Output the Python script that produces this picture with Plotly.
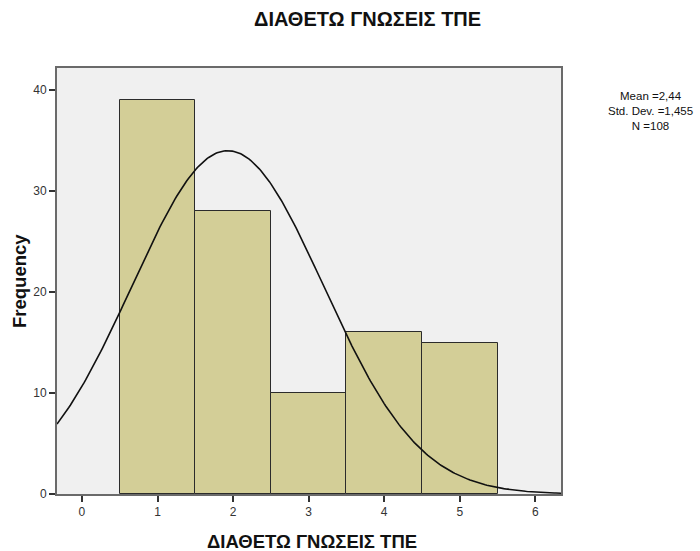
import numpy as np
import plotly.graph_objects as go

# Data
categories = [1, 2, 3, 4, 5]
frequencies = [39, 28, 10, 16, 15]
x_ticks = [0, 1, 2, 3, 4, 5, 6]
y_ticks = [0, 10, 20, 30, 40]
stats_lines = ["Mean =2,44", "Std. Dev. =1,455", "N =108"]
title_text = "ΔΙΑΘΕΤΩ ΓΝΩΣΕΙΣ ΤΠΕ"
y_title_text = "Frequency"

# Normal curve parameters as drawn in the picture
curve_mean = 1.93
curve_sd = 1.267
curve_n = 108
bin_width = 1.0

x_min, x_max = -0.33, 6.34
y_max = 42.2

W, H = 700, 551
L, R, T, B = 57, 561, 68, 494

xc = np.linspace(x_min, x_max, 300)
yc = curve_n * bin_width / (curve_sd * np.sqrt(2 * np.pi)) * np.exp(-0.5 * ((xc - curve_mean) / curve_sd) ** 2)

fig = go.Figure()
fig.add_trace(go.Bar(
    x=categories, y=frequencies, width=1.0,
    marker=dict(color="#D3CE97", line=dict(color="#2b2b2b", width=1)),
    hoverinfo="x+y"
))
fig.add_trace(go.Scatter(
    x=xc, y=yc, mode="lines",
    line=dict(color="#111111", width=1.6), hoverinfo="skip"
))

font_family = "Liberation Sans, Arial, sans-serif"
fig.update_layout(
    width=W, height=H,
    margin=dict(l=L, r=W - R, t=T, b=H - B, autoexpand=False),
    paper_bgcolor="white", plot_bgcolor="#F0F0F0",
    showlegend=False, bargap=0,
    font=dict(family=font_family, size=12, color="#222222"),
)
axis_common = dict(
    showgrid=False, zeroline=False, showline=True, mirror=True,
    linecolor="#6a6a6a", linewidth=2, ticks="outside", ticklen=6, tickwidth=1.5,
    tickcolor="#333333", tickfont=dict(family=font_family, size=12, color="#333333"),
)
fig.update_xaxes(range=[x_min, x_max], tickvals=x_ticks,
                 ticktext=[str(v) for v in x_ticks], **axis_common)
fig.update_yaxes(range=[0, y_max], tickvals=y_ticks,
                 ticktext=[str(v) for v in y_ticks], **axis_common)

# Chart title
fig.add_annotation(text="<b>" + title_text + "</b>", xref="paper", yref="paper",
                   x=(367 - L) / (R - L), y=1 + (T - 19) / (B - T),
                   xanchor="center", yanchor="middle", showarrow=False,
                   font=dict(family=font_family, size=20, color="#111111"))
# X axis title
fig.add_annotation(text="<b>" + title_text + "</b>", xref="paper", yref="paper",
                   x=(312 - L) / (R - L), y=-(541 - B) / (B - T),
                   xanchor="center", yanchor="middle", showarrow=False,
                   font=dict(family=font_family, size=18.5, color="#111111"))
# Y axis title
fig.add_annotation(text="<b>" + y_title_text + "</b>", xref="paper", yref="paper",
                   x=-(L - 19) / (R - L), y=(B - 281) / (B - T),
                   xanchor="center", yanchor="middle", showarrow=False, textangle=-90,
                   font=dict(family=font_family, size=18.5, color="#111111"))
# Stats text (one block, centred lines)
fig.add_annotation(text="<br>".join(stats_lines), xref="paper", yref="paper",
                   x=(650 - L) / (R - L), y=(B - 111) / (B - T),
                   xanchor="center", yanchor="middle", showarrow=False,
                   align="center", borderpad=0,
                   font=dict(family=font_family, size=11.5, color="#111111"))

fig.write_html("out.html", config={"displayModeBar": False},
               post_script="document.body.style.margin='0';document.body.style.padding='0';")
